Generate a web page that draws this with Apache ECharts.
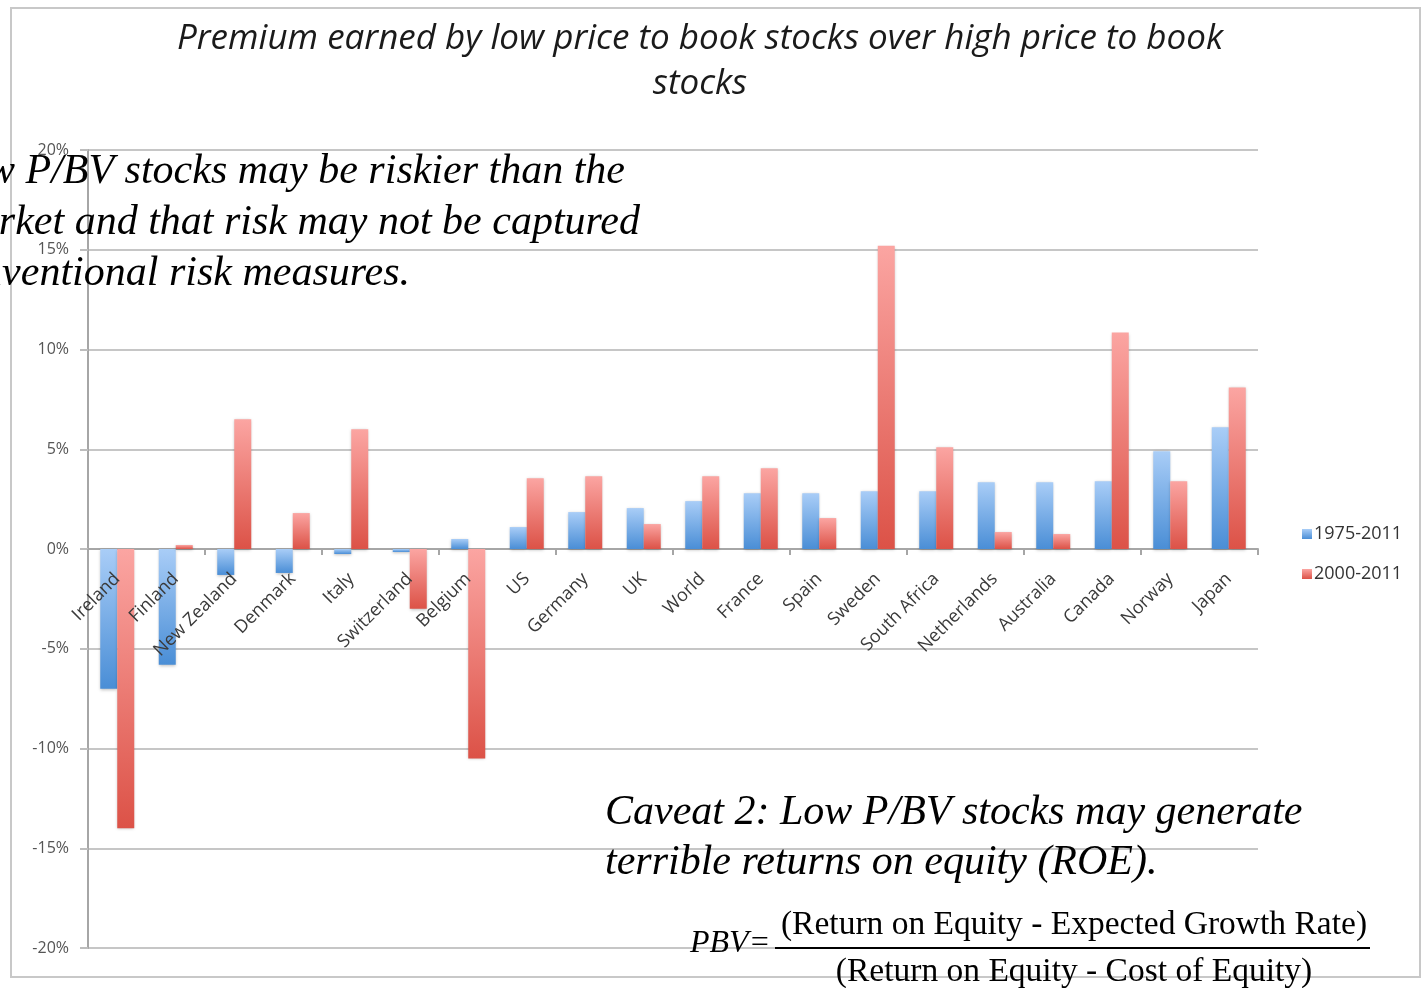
<!DOCTYPE html>
<html>
<head>
<meta charset="utf-8">
<script src="https://cdn.jsdelivr.net/npm/echarts@6/dist/echarts.min.js"></script>
<style>
html, body { margin: 0; padding: 0; background: #fff; }
#chart { width: 1428px; height: 988px; }
</style>
</head>
<body>
<div id="chart"></div>
<script>
var countries = ["Ireland", "Finland", "New Zealand", "Denmark", "Italy", "Switzerland", "Belgium",
  "US", "Germany", "UK", "World", "France", "Spain", "Sweden", "South Africa", "Netherlands",
  "Australia", "Canada", "Norway", "Japan"];
var long1975 = [-7.0, -5.8, -1.3, -1.2, -0.25, -0.15, 0.5, 1.1, 1.85, 2.05, 2.4, 2.8, 2.8, 2.9, 2.9, 3.35, 3.35, 3.4, 4.9, 6.1];
var recent2000 = [-14.0, 0.2, 6.5, 1.8, 6.0, -3.0, -10.5, 3.55, 3.65, 1.25, 3.65, 4.05, 1.55, 15.2, 5.1, 0.85, 0.75, 10.85, 3.4, 8.1];
var yTicks = [-20, -15, -10, -5, 0, 5, 10, 15, 20];

var chart = echarts.init(document.getElementById("chart"));

function grad(light, dark) {
  return new echarts.graphic.LinearGradient(0, 0, 0, 1, [
    { offset: 0, color: light },
    { offset: 1, color: dark }
  ]);
}

var serif = "'Liberation Serif', 'DejaVu Serif', serif";
// grid: top 150, height 798 -> zero line sits 399px above the bottom
var zeroOffset = -399;

var option = {
  animation: false,
  title: {
    text: "Premium earned by low price to book stocks over high price to book\nstocks",
    left: 695,
    top: 12,
    textAlign: "center",
    textStyle: {
      fontFamily: "Open Sans",
      fontStyle: "italic",
      fontWeight: "normal",
      fontSize: 35,
      lineHeight: 45,
      color: "#1a1a1a"
    }
  },
  legend: {
    orient: "vertical",
    left: 1297,
    top: 520,
    itemWidth: 10,
    itemHeight: 10,
    itemGap: 22,
    icon: "rect",
    textStyle: { fontFamily: "Open Sans", fontSize: 18, color: "#333", padding: [0, 0, 0, -3] },
    data: ["1975-2011", "2000-2011"]
  },
  grid: { left: 88, right: 170, top: 150, bottom: 40, containLabel: false, outerBoundsMode: "none" },
  xAxis: [
    {
      type: "category",
      data: countries,
      axisLine: { onZero: true, lineStyle: { color: "#a6a6a6", width: 2 } },
      axisTick: { show: true, length: 6, lineStyle: { color: "#a6a6a6", width: 2 } },
      axisLabel: { show: false }
    },
    {
      // label-only axis moved up to the zero line, drawn over the bars
      type: "category",
      data: countries,
      position: "bottom",
      offset: zeroOffset,
      z: 20,
      axisLine: { show: false },
      axisTick: { show: false },
      splitLine: { show: false },
      axisLabel: {
        rotate: 45,
        interval: 0,
        margin: 27,
        fontFamily: "Open Sans",
        fontSize: 18,
        color: "#3a3a3a"
      }
    }
  ],
  yAxis: {
    type: "value",
    min: -20,
    max: 20,
    interval: 5,
    axisLine: { show: true, lineStyle: { color: "#a6a6a6", width: 2 } },
    axisTick: { show: true, length: 8, lineStyle: { color: "#bdbdbd", width: 2 } },
    splitLine: { lineStyle: { color: "#c6c6c6", width: 2 } },
    axisLabel: {
      margin: 19,
      padding: [6, 0, 0, 0],
      fontFamily: "Open Sans",
      fontSize: 16,
      color: "#555",
      formatter: function (v) { return yTicks.indexOf(v) >= 0 ? v + "%" : ""; }
    }
  },
  series: [
    {
      name: "1975-2011",
      type: "bar",
      data: long1975,
      barWidth: 17,
      barGap: "0%",
      itemStyle: {
        color: grad("#a9cdf7", "#4a8ed6"),
        shadowBlur: 3,
        shadowColor: "rgba(0,0,0,0.25)",
        shadowOffsetY: 1
      }
    },
    {
      name: "2000-2011",
      type: "bar",
      data: recent2000,
      barWidth: 17,
      itemStyle: {
        color: grad("#fba5a2", "#dc5247"),
        shadowBlur: 3,
        shadowColor: "rgba(0,0,0,0.25)",
        shadowOffsetY: 1
      }
    }
  ],
  graphic: [
    {
      type: "rect",
      shape: { x: 11, y: 8, width: 1409, height: 969 },
      style: { fill: "none", stroke: "#c8c8c8", lineWidth: 2 },
      z: 0
    },
    {
      type: "text", x: 625, y: 172, z: 100,
      style: { text: "Caveat 1: Low P/BV stocks may be riskier than the", align: "right", verticalAlign: "middle",
        font: "italic 42px " + serif, fill: "#000" }
    },
    {
      type: "text", x: 640, y: 223, z: 100,
      style: { text: "market and that risk may not be captured", align: "right", verticalAlign: "middle",
        font: "italic 42px " + serif, fill: "#000" }
    },
    {
      type: "text", x: 410, y: 274, z: 100,
      style: { text: "by conventional risk measures.", align: "right", verticalAlign: "middle",
        font: "italic 42px " + serif, fill: "#000" }
    },
    {
      type: "text", x: 605, y: 813, z: 100,
      style: { text: "Caveat 2: Low P/BV stocks may generate", align: "left", verticalAlign: "middle",
        font: "italic 42px " + serif, fill: "#000" }
    },
    {
      type: "text", x: 605, y: 863, z: 100,
      style: { text: "terrible returns on equity (ROE).", align: "left", verticalAlign: "middle",
        font: "italic 42px " + serif, fill: "#000" }
    },
    {
      type: "text", x: 690, y: 944, z: 100,
      style: { text: "PBV=", align: "left", verticalAlign: "middle",
        font: "italic 32px " + serif, fill: "#000" }
    },
    {
      type: "text", x: 1074, y: 925, z: 100,
      style: { text: "(Return on Equity - Expected Growth Rate)", align: "center", verticalAlign: "middle",
        font: "33.5px " + serif, fill: "#000" }
    },
    {
      type: "line", z: 100,
      shape: { x1: 775, y1: 948, x2: 1370, y2: 948 },
      style: { stroke: "#000", lineWidth: 2 }
    },
    {
      type: "text", x: 1074, y: 972, z: 100,
      style: { text: "(Return on Equity - Cost of Equity)", align: "center", verticalAlign: "middle",
        font: "33.5px " + serif, fill: "#000" }
    }
  ]
};

chart.setOption(option);
</script>
</body>
</html>
